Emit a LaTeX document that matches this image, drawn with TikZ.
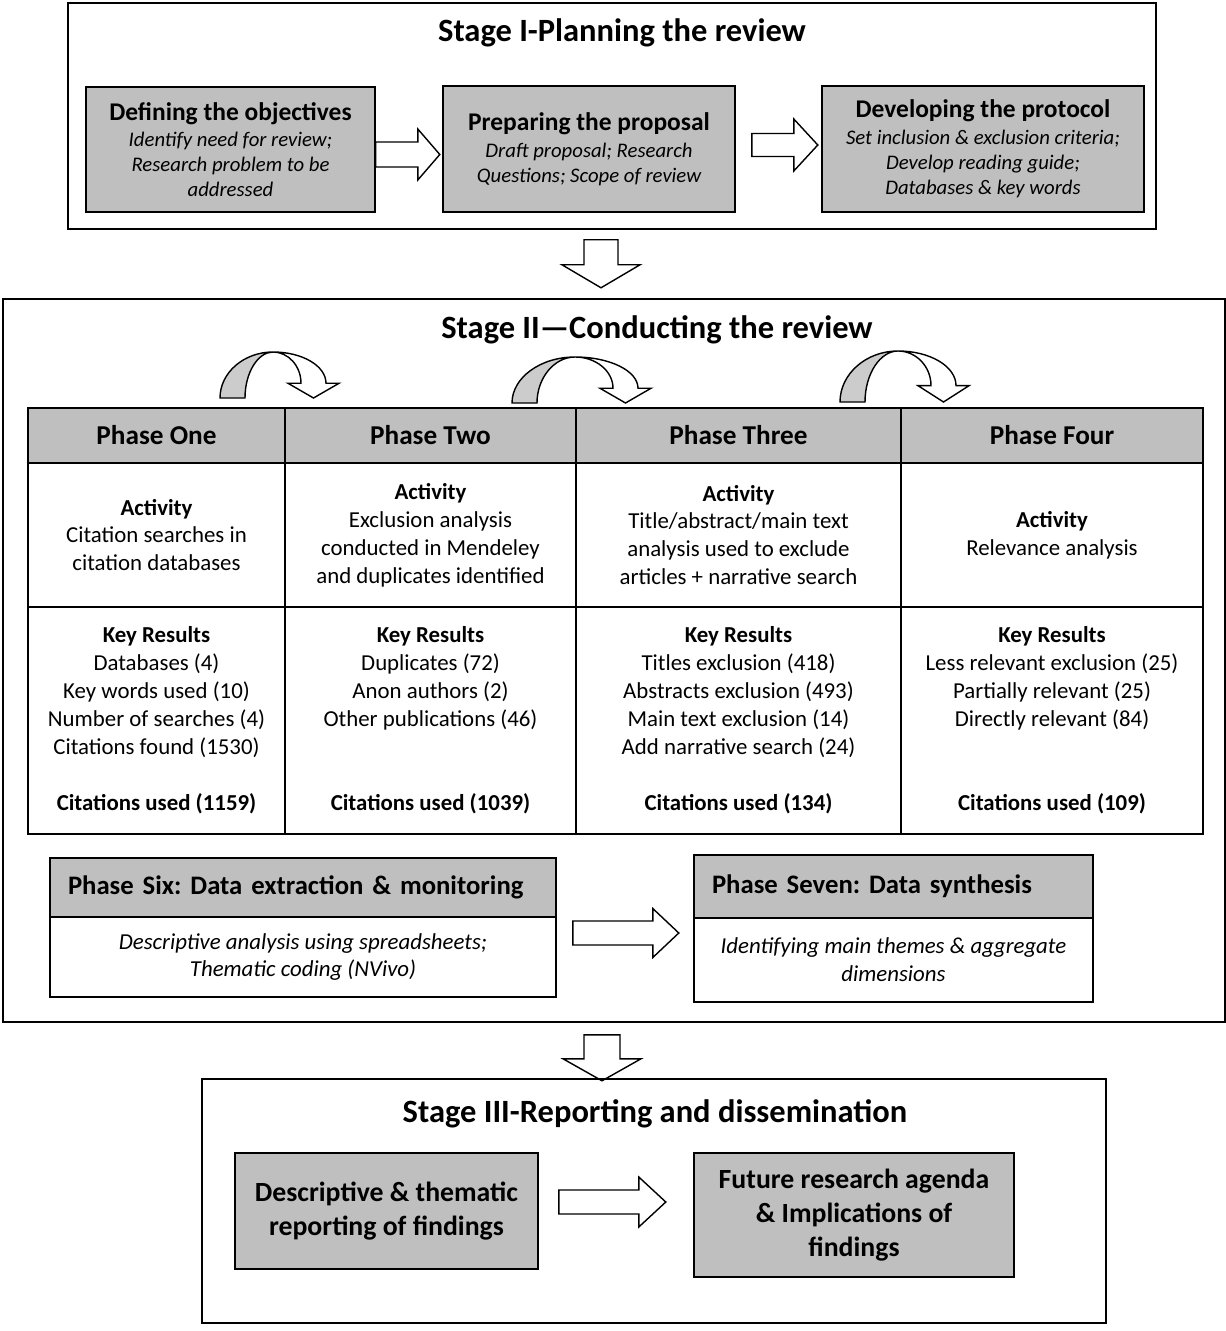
\documentclass[tikz,border=0pt]{standalone}
\usepackage{fontspec}
\setmainfont{Carlito}
\usetikzlibrary{calc}
\frenchspacing

\definecolor{boxgray}{RGB}{191,191,191}
\definecolor{bendgray}{RGB}{204,204,204}
\newlength\pxl
\setlength\pxl{0.02cm}

% block arrows: start point, shaft length, total length, shaft half, head half
\newcommand\rblock[5]{%
  \draw[blockarrow] (#1) ++(0,-#4) -- ++(#2,0) -- ++(0,#4-#5) -- ++(#3-#2,#5)
    -- ++(#2-#3,#5) -- ++(0,#4-#5) -- ++(-#2,0) -- cycle;}
\newcommand\dblock[5]{%
  \draw[blockarrow] (#1) ++(-#4,0) -- ++(0,#2) -- ++(#4-#5,0) -- ++(#5,#3-#2)
    -- ++(#5,#2-#3) -- ++(#4-#5,0) -- ++(0,-#2) -- cycle;}
% curved arrow: peak x, peak y, half width, height
\newcommand\bendblock[4]{%
  \filldraw[bendarrow,fill=bendgray] (#1-#3,#2+#4) .. controls (#1-#3,#2+0.45*#4) and (#1-0.55*#3,#2) .. (#1,#2)
    .. controls (#1-0.55*#3+14,#2) and (#1-#3+25,#2+0.45*#4) .. (#1-#3+25,#2+#4) -- cycle;
  \filldraw[bendarrow,fill=white] (#1,#2) .. controls (#1+0.55*#3,#2) and (#1+#3,#2+0.3*#4) .. (#1+#3,#2+0.68*#4)
    -- (#1+#3+13,#2+0.68*#4) -- (#1+#3-12.5,#2+#4) -- (#1+#3-38,#2+0.68*#4) -- (#1+#3-25,#2+0.68*#4)
    .. controls (#1+#3-25,#2+0.3*#4) and (#1+0.55*#3-14,#2) .. (#1,#2) -- cycle;}

\tikzset{
  boxw/.style={minimum width=#1*\pxl},
  boxh/.style={minimum height=#1*\pxl},
  stagebox/.style={draw, line width=0.9pt, inner sep=0pt},
  stagetitle/.style={font=\fontsize{18.5}{22}\selectfont\bfseries},
  graybox/.style={draw, fill=boxgray, line width=0.9pt, inner sep=0pt, align=center},
  cell/.style={draw, line width=0.9pt, inner sep=0pt, align=center, font=\fontsize{13}{15.9}\selectfont},
  headcell/.style={cell, fill=boxgray, font=\fontsize{15.5}{18}\selectfont\bfseries},
  blockarrow/.style={draw, fill=white, line width=0.8pt, line join=miter},
  bendarrow/.style={line width=0.8pt},
}

\begin{document}
\begin{tikzpicture}[x=0.02cm, y=-0.02cm]
\useasboundingbox (0,0) rectangle (1226,1331);

% Stage I
\node[stagebox, boxw=1088, boxh=226] (stageone) at (612,116) {};
\node[stagetitle] (stageonetitle) at (622,33) {Stage I-Planning the review};

\node[graybox, boxw=289, boxh=125, font=\fontsize{11.8}{14.2}\selectfont\itshape] (objectives) at (230.5,149.5)
  {{\fontsize{14.5}{16}\selectfont\bfseries\upshape Defining the objectives}\\[1pt]
   Identify need for review;\\ Research problem to be\\ addressed};
\node[graybox, boxw=292, boxh=126, font=\fontsize{11.8}{14.2}\selectfont\itshape] (proposal) at (589,149)
  {{\fontsize{14.5}{16}\selectfont\bfseries\upshape Preparing the proposal}\\[1pt]
   Draft proposal; Research\\ Questions; Scope of review};
\node[graybox, boxw=322, boxh=126, font=\fontsize{11.8}{14.2}\selectfont\itshape] (protocol) at (983,149)
  {{\fontsize{14.5}{16}\selectfont\bfseries\upshape Developing the protocol}\\[1pt]
   Set inclusion \& exclusion criteria;\\ Develop reading guide;\\ Databases \& key words};

\rblock{$(objectives.east)+(0,5)$}{42}{64}{12.5}{25.5}
\rblock{$(proposal.east)+(16,-4)$}{42}{66}{11.5}{26}

\dblock{$(stageone.south)+(-11,10)$}{25}{48}{17}{39}

% Stage II
\node[stagebox, boxw=1222, boxh=723] (stagetwo) at (614,660.5) {};
\node[stagetitle] (stagetwotitle) at (657,330) {Stage II---Conducting the review};

\bendblock{273}{352}{53}{46}
\bendblock{575}{357}{63}{46}
\bendblock{898}{351}{58}{51}

\node[headcell, boxw=257, boxh=55] (onehead) at (156.5,435.5) {Phase One};
\node[headcell, boxw=291, boxh=55] (twohead) at (430.5,435.5) {Phase Two};
\node[headcell, boxw=325, boxh=55] (threehead) at (738.5,435.5) {Phase Three};
\node[headcell, boxw=302, boxh=55] (fourhead) at (1052,435.5) {Phase Four};

\node[cell, boxw=257, boxh=144] (oneact) at (156.5,535)
  {\textbf{Activity}\\ Citation searches in\\ citation databases};
\node[cell, boxw=291, boxh=144] (twoact) at (430.5,535)
  {\textbf{Activity}\\ Exclusion analysis\\ conducted in Mendeley\\ and duplicates identified};
\node[cell, boxw=325, boxh=144] (threeact) at (738.5,535)
  {\textbf{Activity}\\ Title/abstract/main text\\ analysis used to exclude\\ articles + narrative search};
\node[cell, boxw=302, boxh=144] (fouract) at (1052,535)
  {\textbf{Activity}\\ Relevance analysis};

\node[cell, boxw=257, boxh=227] (oneres) at (156.5,720.5)
  {\textbf{Key Results}\\ Databases (4)\\ Key words used (10)\\ Number of searches (4)\\
   Citations found (1530)\\ ~\\ \textbf{Citations used (1159)}};
\node[cell, boxw=291, boxh=227] (twores) at (430.5,720.5)
  {\textbf{Key Results}\\ Duplicates (72)\\ Anon authors (2)\\ Other publications (46)\\
   ~\\ ~\\ \textbf{Citations used (1039)}};
\node[cell, boxw=325, boxh=227] (threeres) at (738.5,720.5)
  {\textbf{Key Results}\\ Titles exclusion (418)\\ Abstracts exclusion (493)\\ Main text exclusion (14)\\
   Add narrative search (24)\\ ~\\ \textbf{Citations used (134)}};
\node[cell, boxw=302, boxh=227] (fourres) at (1052,720.5)
  {\textbf{Key Results}\\ Less relevant exclusion (25)\\ Partially relevant (25)\\ Directly relevant (84)\\
   ~\\ ~\\ \textbf{Citations used (109)}};

\node[headcell, boxw=506, boxh=59, text width=470*\pxl, inner xsep=18*\pxl, align=left,
  font=\fontsize{15.2}{18}\selectfont\bfseries] (sixhead) at (303,887.5)
  {Phase Six: Data extraction \& monitoring};
\node[cell, boxw=506, boxh=80, font=\fontsize{13}{15.9}\selectfont\itshape] (sixbody) at (303,957)
  {Descriptive analysis using spreadsheets;\\ Thematic coding (NVivo)};
\node[headcell, boxw=399, boxh=63, text width=363*\pxl, inner xsep=18*\pxl, align=left,
  font=\fontsize{15.2}{18}\selectfont\bfseries] (sevenhead) at (893.5,886.5)
  {Phase Seven: Data synthesis};
\node[cell, boxw=399, boxh=84, font=\fontsize{13}{15.9}\selectfont\itshape] (sevenbody) at (893.5,960)
  {Identifying main themes \& aggregate\\ dimensions};

\rblock{$(sixbody.east)+(16,-24)$}{80}{106}{12}{24.5}

\dblock{$(stagetwo.south)+(-12,12)$}{24}{46}{18}{39}

% Stage III
\node[stagebox, boxw=904, boxh=244] (stagethree) at (654,1201) {};
\node[stagetitle] (stagethreetitle) at (655,1114) {Stage III-Reporting and dissemination};

\node[graybox, boxw=303, boxh=116, font=\fontsize{15.8}{19.3}\selectfont\bfseries] (reporting) at (386.5,1211)
  {Descriptive \& thematic\\ reporting of findings};
\node[graybox, boxw=320, boxh=124, font=\fontsize{15.8}{19.3}\selectfont\bfseries] (agenda) at (854,1215)
  {Future research agenda\\ \& Implications of\\ findings};

\rblock{$(reporting.east)+(20,-9)$}{80}{107}{12}{25}
\end{tikzpicture}
\end{document}
